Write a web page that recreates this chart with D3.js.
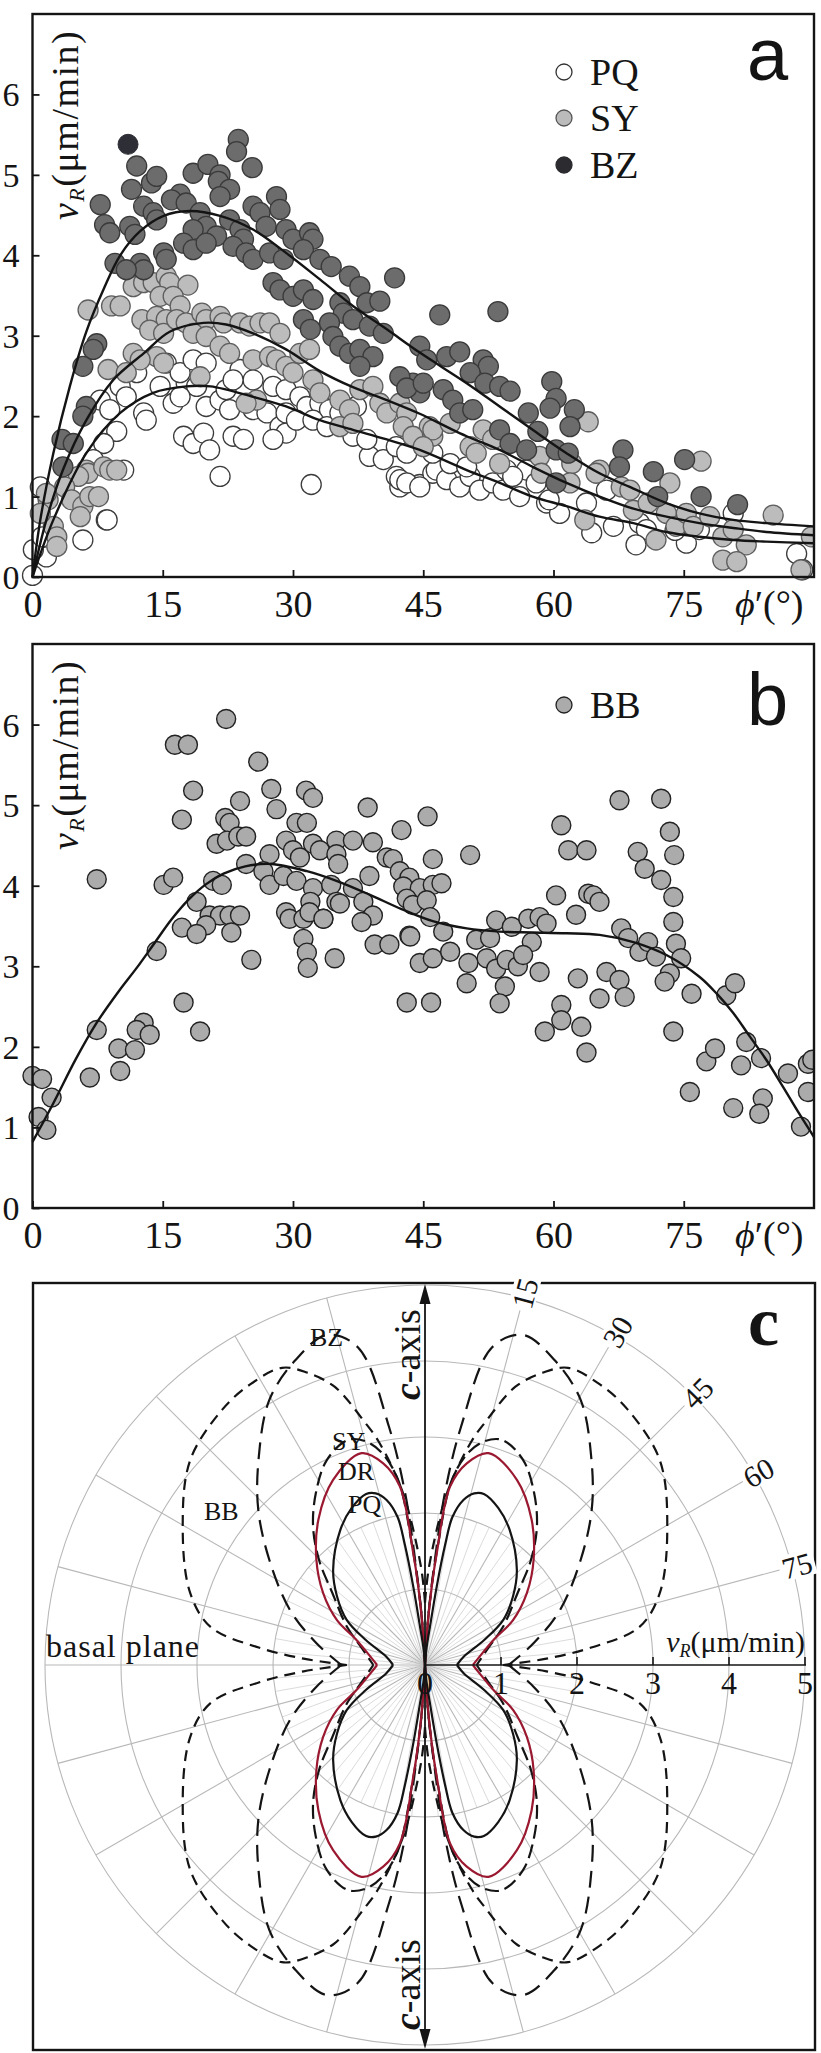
<!DOCTYPE html>
<html>
<head>
<meta charset="utf-8">
<script src="https://cdn.jsdelivr.net/npm/d3@7"></script>
<style>
  body { margin: 0; background: #fff; }
  svg { display: block; }
</style>
</head>
<body>
<svg id="fig" width="821" height="2053"></svg>
<script>
// ---------- axis ticks ----------
const degTicks = [0, 15, 30, 45, 60, 75];
const vTicks = [0, 1, 2, 3, 4, 5, 6];
const polarRings = [1, 2, 3, 4, 5];
const polarRingLabels = [0, 1, 2, 3, 4, 5];
const polarAngleLabels = [15, 30, 45, 60, 75];

// ---------- measured growth rates [phi' (deg), vR (um/min)] ----------
const pqPoints = [
  [17.4,1.75],[18.5,1.66],[19.7,1.79],[20.4,1.58],[21.6,1.25],[32.1,1.15],[23.1,1.75],[24.3,1.71],
  [20.0,2.12],[21.6,2.20],[22.7,2.08],[25.4,2.08],[27.0,2.04],[28.5,1.87],[29.2,1.79],[27.7,1.71],
  [17.7,2.41],[18.9,2.37],[16.2,2.16],[17.0,2.24],[14.7,2.37],[12.8,2.04],[13.1,1.95],[10.1,2.37],
  [10.8,2.24],[7.8,2.20],[8.9,2.08],[9.7,1.81],[8.2,1.66],[7.0,1.46],[10.5,1.33],[8.5,0.71],
  [5.8,0.46],[1.6,0.25],[0.1,0.34],[1.1,0.50],[0.9,1.12],[0.0,0.02],[23.9,2.58],[25.4,2.45],
  [27.7,2.37],[29.2,2.33],[22.3,2.33],[23.1,2.45],[30.8,2.24],[31.6,2.12],[33.1,2.16],[34.2,2.08],
  [29.2,2.04],[30.4,1.95],[32.3,1.95],[33.9,1.87],[38.8,1.50],[40.4,1.46],[41.9,1.25],[42.3,1.12],
  [44.6,1.15],[46.1,1.29],[36.9,1.75],[38.5,1.71],[41.9,1.62],[43.1,1.54],[35.4,2.04],[37.3,2.12],
  [15.4,2.66],[17.0,2.54],[12.0,2.54],[18.5,2.70],[20.0,2.66],[42.3,1.21],[43.1,1.17],[44.6,1.12],
  [46.5,1.33],[47.7,1.21],[49.2,1.12],[50.4,1.25],[51.5,1.08],[53.0,1.17],[54.2,1.08],[56.1,1.00],
  [56.9,1.33],[58.0,1.17],[59.2,0.92],[60.7,0.79],[66.9,0.63],[69.9,0.67],[70.7,0.59],[69.5,0.40],
  [75.3,0.42],[76.8,0.59],[80.7,0.79],[88.0,0.29],[88.7,0.09],[66.1,1.08],[63.8,0.92],[48.1,1.41],
  [50.0,1.37],[46.1,1.54],[54.6,1.33],[55.3,1.25],[64.4,0.55],[59.5,0.96],[8.6,0.71],[74.0,0.58]
];
const syPoints = [
  [6.4,3.32],[9.1,3.37],[10.1,3.37],[11.6,3.61],[12.8,3.66],[13.9,3.66],[15.4,3.74],[15.8,3.66],
  [17.9,3.63],[14.7,3.49],[16.2,3.49],[17.0,3.37],[12.6,3.20],[14.3,3.24],[15.4,3.20],[13.5,3.07],
  [15.1,3.03],[16.6,3.20],[17.7,3.16],[19.5,3.28],[20.0,3.20],[21.6,3.24],[22.0,3.16],[18.5,3.03],
  [20.0,2.99],[23.9,3.16],[25.0,3.12],[26.2,3.16],[27.3,3.16],[28.5,3.03],[21.6,2.87],[22.7,2.78],
  [25.4,2.70],[27.3,2.74],[28.1,2.70],[29.2,2.62],[30.0,2.54],[30.8,2.78],[31.9,2.83],[14.3,2.74],
  [15.1,2.66],[11.6,2.78],[12.4,2.70],[8.7,2.58],[10.8,2.54],[19.3,2.49],[25.8,2.20],[24.6,2.16],
  [32.3,2.45],[33.1,2.29],[35.4,2.20],[36.5,2.08],[37.7,2.33],[39.2,2.37],[40.0,2.16],[40.8,2.04],
  [42.3,2.16],[43.1,2.04],[45.7,1.87],[46.1,1.75],[35.4,1.87],[36.9,1.91],[6.2,1.33],[6.4,1.29],
  [8.2,1.37],[8.9,1.33],[9.7,1.33],[5.3,1.25],[3.7,1.12],[4.5,0.96],[5.8,0.88],[6.6,1.00],
  [7.6,1.00],[5.5,0.75],[2.4,0.63],[2.8,0.50],[2.8,0.38],[1.8,0.96],[1.6,1.04],[0.9,0.79],
  [64.0,1.93],[42.7,1.87],[46.1,1.83],[43.8,1.75],[45.0,1.62],[48.1,1.91],[51.9,1.83],[53.0,1.71],
  [50.4,1.62],[51.1,1.54],[53.8,1.41],[58.4,1.50],[58.6,1.29],[62.1,1.41],[61.9,1.17],[63.6,0.71],
  [65.3,1.33],[67.8,1.12],[68.8,1.08],[69.2,0.83],[71.8,0.46],[73.4,1.17],[73.0,0.79],[74.1,0.63],
  [77.0,1.44],[75.3,0.79],[76.1,0.63],[78.0,0.75],[79.5,0.50],[80.7,0.59],[82.2,0.40],[79.5,0.21],
  [81.1,0.19],[85.3,0.77],[89.7,0.50],[88.5,0.09],[64.9,1.29],[70.9,0.92]
];
const bzPoints = [
  [23.7,5.44],[23.5,5.29],[25.3,5.09],[12.0,5.11],[13.7,4.90],[14.3,4.98],[11.4,4.82],[7.8,4.63],
  [8.3,4.38],[8.9,4.28],[18.5,5.02],[20.2,5.13],[21.6,5.00],[21.4,4.92],[22.7,4.82],[21.6,4.73],
  [17.0,4.76],[16.0,4.69],[17.7,4.65],[12.8,4.61],[13.9,4.53],[14.3,4.44],[11.2,4.36],[11.8,4.26],
  [19.3,4.53],[20.0,4.36],[21.2,4.24],[22.7,4.44],[23.9,4.32],[24.3,4.20],[25.4,4.61],[26.2,4.53],
  [28.1,4.73],[28.5,4.57],[18.5,4.32],[17.4,4.15],[18.5,4.07],[20.0,4.15],[23.1,4.11],[24.6,4.03],
  [25.4,3.95],[15.1,4.03],[15.4,3.95],[12.4,3.90],[12.8,3.82],[9.5,3.90],[10.8,3.82],[7.4,2.90],
  [7.0,2.83],[5.8,2.62],[6.2,2.12],[5.8,2.00],[3.4,1.71],[4.7,1.66],[3.5,1.37],[26.9,4.36],
  [29.2,4.32],[30.0,4.20],[31.9,4.28],[32.3,4.20],[27.3,4.03],[28.9,3.95],[31.2,4.07],[33.1,3.95],
  [34.4,3.86],[27.7,3.66],[28.5,3.57],[30.0,3.49],[31.2,3.57],[32.3,3.45],[36.5,3.74],[37.7,3.61],
  [41.7,3.72],[35.4,3.41],[35.8,3.28],[38.5,3.41],[40.0,3.43],[36.9,3.20],[38.8,3.12],[40.4,3.03],
  [31.2,3.20],[32.0,3.08],[34.2,3.16],[34.6,2.99],[35.4,2.87],[36.5,2.78],[37.7,2.83],[39.2,2.74],
  [44.6,2.87],[45.4,2.70],[43.8,2.41],[44.6,2.29],[42.3,2.49],[37.7,2.62],[46.9,3.26],[53.6,3.30],
  [47.7,2.74],[49.2,2.80],[51.9,2.70],[52.5,2.62],[50.4,2.54],[52.1,2.41],[53.8,2.37],[55.0,2.31],
  [43.1,2.35],[45.0,2.41],[47.3,2.33],[48.4,2.20],[49.2,2.04],[50.7,2.08],[57.1,2.04],[59.8,2.43],
  [60.3,2.22],[59.6,2.10],[62.4,2.08],[61.9,1.87],[58.2,1.81],[53.8,1.83],[55.0,1.66],[56.9,1.58],
  [60.3,1.58],[61.7,1.54],[60.3,1.17],[68.0,1.58],[67.6,1.37],[71.5,1.31],[75.1,1.46],[72.0,1.00],
  [77.0,1.00],[81.2,0.90]
];
const bzDarkPoints = [[11.0,5.38]];
const bbPoints = [
  [22.3,6.07],[16.4,5.75],[17.9,5.75],[26.0,5.54],[18.5,5.18],[27.5,5.20],[31.5,5.18],[32.3,5.09],
  [23.9,5.05],[17.2,4.82],[38.6,4.97],[45.5,4.86],[22.2,4.84],[22.7,4.78],[28.1,4.95],[30.4,4.78],
  [31.6,4.78],[21.2,4.52],[22.4,4.56],[23.7,4.61],[24.6,4.61],[42.5,4.69],[27.3,4.39],[29.2,4.56],
  [30.0,4.44],[30.8,4.35],[32.3,4.52],[33.1,4.44],[35.0,4.56],[35.0,4.39],[35.2,4.27],[36.9,4.56],
  [39.2,4.54],[40.8,4.35],[41.5,4.33],[46.1,4.33],[24.6,4.27],[26.6,4.18],[27.3,4.01],[28.9,4.12],
  [30.4,4.06],[32.3,3.97],[32.0,3.80],[34.4,4.01],[35.0,3.80],[36.9,3.97],[38.8,4.12],[42.3,4.18],
  [43.4,4.10],[42.7,3.99],[44.6,3.97],[46.1,4.01],[43.1,3.84],[43.8,3.76],[45.4,3.82],[38.1,3.80],
  [39.2,3.63],[37.9,3.55],[35.4,3.78],[33.5,3.59],[15.1,4.01],[16.2,4.10],[20.8,4.06],[21.8,4.01],
  [7.4,4.08],[18.9,3.80],[20.4,3.63],[21.6,3.63],[22.7,3.63],[23.9,3.63],[20.0,3.51],[22.9,3.42],
  [17.2,3.48],[18.9,3.40],[14.3,3.19],[29.2,3.67],[29.6,3.59],[31.2,3.59],[31.9,3.67],[33.5,3.59],
  [31.2,3.34],[31.6,3.17],[31.7,2.98],[34.8,3.10],[25.2,3.08],[39.4,3.27],[41.1,3.27],[43.4,3.38],
  [44.6,3.04],[46.1,3.10],[17.4,2.55],[19.3,2.19],[43.1,2.55],[45.9,2.55],[12.8,2.30],[12.0,2.21],
  [13.5,2.15],[7.4,2.21],[9.9,1.98],[11.8,1.96],[6.6,1.62],[10.1,1.70],[0.0,1.64],[1.1,1.60],
  [2.2,1.37],[0.7,1.13],[1.6,0.97],
  [67.6,5.06],[72.4,5.08],[60.9,4.75],[61.7,4.44],[63.8,4.44],[73.4,4.67],[69.7,4.42],[70.5,4.21],
  [73.9,4.38],[72.4,4.07],[73.8,3.86],[50.4,4.38],[47.1,4.03],[43.5,3.37],[48.1,3.18],[47.3,3.43],
  [45.8,3.61],[50.2,3.04],[52.3,3.10],[53.4,2.97],[54.6,3.08],[55.9,3.00],[50.0,2.79],[51.1,3.33],
  [52.7,3.35],[53.4,3.57],[55.2,3.49],[57.1,3.59],[58.4,3.61],[59.2,3.53],[57.5,3.30],[56.5,3.14],
  [54.4,2.75],[53.8,2.54],[58.4,2.93],[60.3,3.88],[62.6,3.64],[64.0,3.90],[64.6,3.88],[65.3,3.80],
  [67.8,3.47],[68.6,3.35],[69.9,3.18],[70.9,3.30],[71.8,3.12],[62.8,2.85],[66.1,2.93],[67.6,2.83],
  [65.3,2.60],[68.2,2.62],[60.9,2.52],[60.9,2.33],[59.0,2.19],[63.2,2.25],[63.8,1.93],[73.8,3.55],
  [74.1,3.28],[74.7,3.10],[73.4,2.91],[72.8,2.81],[73.8,2.19],[75.9,2.66],[79.9,2.64],[80.9,2.79],
  [77.6,1.82],[78.6,1.98],[81.6,1.77],[82.2,2.06],[83.9,1.86],[87.0,1.67],[89.3,1.79],[89.3,1.44],
  [75.7,1.44],[80.7,1.24],[84.1,1.36],[83.7,1.17],[88.5,1.01],[89.8,1.84]
];

// ---------- fitted curves [phi' (deg), vR (um/min)] ----------
const pqFit = [
  [0,0],[2.4,0.71],[6.2,1.54],[10.1,2.04],[13.9,2.29],[17.7,2.37],[20.5,2.37],[25.4,2.24],
  [29.2,2.12],[33.1,1.95],[36.9,1.83],[40.8,1.71],[44.6,1.58],[50,1.33],[53.8,1.17],[57.6,1.0],
  [61.5,0.88],[65.3,0.75],[69.2,0.67],[73,0.56],[76.8,0.5],[80.7,0.46],[84.5,0.44],[90,0.42]
];
const syFit = [
  [0,0],[1.6,0.71],[3.5,1.33],[6.2,1.95],[9.3,2.45],[12.8,2.78],[15.8,3.05],[19.7,3.16],
  [22.3,3.14],[25.4,3.03],[29.2,2.83],[33.1,2.56],[36.9,2.36],[40.8,2.2],[44.6,2.03],[48,1.85],
  [50,1.75],[53.8,1.58],[57.6,1.37],[61.5,1.17],[65.3,1.0],[69.2,0.85],[73,0.75],[76.8,0.67],
  [80.7,0.61],[84.5,0.56],[90,0.52]
];
const bzFit = [
  [0,0],[0.9,0.71],[2.4,1.54],[4.3,2.37],[6.2,3.05],[8.2,3.58],[10.1,4.0],[12.4,4.3],
  [15.1,4.49],[18.1,4.55],[21.6,4.49],[25.4,4.32],[29.2,4.03],[33.1,3.7],[36.9,3.37],[40.8,3.08],
  [44.6,2.79],[50,2.41],[53.8,2.12],[57.6,1.83],[61.5,1.54],[65.3,1.29],[69.2,1.1],[73,0.92],
  [76.8,0.79],[80.7,0.71],[84.5,0.67],[90,0.63]
];
const bbFit = [
  [0,0.82],[2.4,1.3],[5,1.85],[7.4,2.3],[10,2.7],[12,2.98],[14,3.28],[16,3.58],[18,3.83],
  [20,4.02],[22,4.15],[24.5,4.24],[27.5,4.27],[31.6,4.18],[35,4.06],[38.8,3.89],[42.5,3.71],
  [46.1,3.56],[50,3.47],[53.8,3.43],[57.6,3.42],[61.5,3.41],[65.3,3.39],[69.2,3.3],[73,3.14],
  [76.8,2.87],[78.8,2.66],[80.7,2.42],[82.6,2.13],[84.5,1.84],[86.4,1.51],[88.3,1.17],[90,0.88]
];

// ---------- growth-rate profiles in the polar view [angle from c-axis (deg), vR] ----------
const pqPolar = [
  [0,0],[5,0.2],[7.4,0.51],[8.5,1.04],[9.5,1.6],[10.5,1.98],[13.1,2.23],[16,2.35],[19,2.38],
  [25,2.28],[32,2.1],[44,1.74],[52,1.47],[60,1.19],[67,0.85],[78,0.52],[90,0.42]
];
const drPolar = [
  [0,0],[3.5,0.45],[4.9,1.03],[6,1.48],[8,2.37],[11.7,2.71],[16.7,2.91],[26.4,2.72],[36.3,2.37],
  [45.9,1.99],[54.8,1.64],[63,1.3],[69.9,0.96],[81,0.73],[90,0.63]
];
const syPolar = [
  [0,0],[3.5,0.5],[5,1.1],[6.2,1.6],[8.2,2.45],[11.5,2.85],[15,3.05],[19,3.13],[25.6,2.99],
  [32.4,2.68],[39,2.34],[45.3,1.96],[52,1.55],[64,1.14],[75,0.86],[90,0.68]
];
const bzPolar = [
  [0,0],[4,0.7],[5.4,1.39],[6.6,2.28],[8.6,3.17],[11.9,4.27],[16.5,4.53],[23,4.36],[30.5,4.04],
  [39,3.48],[47,3.0],[56,2.47],[67.8,1.92],[78.6,1.46],[90,1.1]
];
const bbPolar = [
  [0,0.82],[2.4,1.3],[7.4,2.3],[11.7,3.0],[14,3.3],[18,3.85],[22,4.15],[25.7,4.34],[32,4.35],
  [38.5,4.29],[48.9,4.1],[60.3,3.67],[73,3.23],[80,2.86],[84,2.2],[87,1.6],[90,1.03]
];

// ---------- drawing ----------
const SERIF = "'Liberation Serif','DejaVu Serif',serif";
const SANS = "'Liberation Sans','DejaVu Sans',sans-serif";
const INK = '#141414';
const svg = d3.select('#fig');
const defs = svg.append('defs');

function drawCartesian(cfg) {
  const { id, top, bottom, left, right } = cfg;
  const x = d3.scaleLinear().domain([0, 90]).range([left, right]);
  const y = d3.scaleLinear().domain([0, 7]).range([bottom, top]);
  const g = svg.append('g');

  defs.append('clipPath').attr('id', 'clip-' + id)
    .append('rect').attr('x', -40).attr('y', top - 30)
    .attr('width', right + 40).attr('height', bottom - top + 60);

  // markers and fitted curves
  const plot = g.append('g').attr('clip-path', `url(#clip-${id})`);
  cfg.series.forEach(s => {
    plot.append('g').selectAll('circle').data(s.data).join('circle')
      .attr('cx', d => x(d[0])).attr('cy', d => y(d[1])).attr('r', s.r)
      .attr('fill', s.fill).attr('stroke', s.stroke).attr('stroke-width', s.sw);
  });
  const line = d3.line().x(d => x(d[0])).y(d => y(d[1])).curve(d3.curveCatmullRom.alpha(0.5));
  cfg.fits.forEach(f => {
    plot.append('path').attr('d', line(f)).attr('fill', 'none')
      .attr('stroke', INK).attr('stroke-width', 2.4);
  });

  // frame
  g.append('rect').attr('x', left).attr('y', top)
    .attr('width', right - left).attr('height', bottom - top)
    .attr('fill', 'none').attr('stroke', INK).attr('stroke-width', 2.4);

  // axes with inward ticks
  const gx = g.append('g').attr('transform', `translate(0,${bottom})`)
    .call(d3.axisBottom(x).tickValues(degTicks).tickSize(-7).tickSizeOuter(0).tickFormat(d3.format('d')));
  gx.select('.domain').remove();
  gx.selectAll('.tick line').attr('stroke', INK).attr('stroke-width', 1.8);
  gx.selectAll('.tick text').attr('y', 40).attr('dy', null)
    .attr('font-family', SERIF).attr('font-size', 38).attr('fill', INK);

  const gy = g.append('g').attr('transform', `translate(${left},0)`)
    .call(d3.axisLeft(y).tickValues(vTicks).tickSize(-7).tickSizeOuter(0).tickFormat(d3.format('d')));
  gy.select('.domain').remove();
  gy.selectAll('.tick line').attr('stroke', INK).attr('stroke-width', 1.8);
  gy.selectAll('.tick text').attr('x', -13).attr('dy', '0.34em')
    .attr('font-family', SERIF).attr('font-size', 34).attr('fill', INK);

  // axis titles
  const xt = g.append('text').attr('x', 735).attr('y', bottom + 40)
    .attr('font-family', SERIF).attr('font-size', 38).attr('fill', INK);
  xt.append('tspan').attr('font-style', 'italic').text('ϕ');
  xt.append('tspan').text('′(°)');

  const yt = g.append('text')
    .attr('transform', `translate(${left + 45},${top + 206}) rotate(-90)`)
    .attr('font-family', SERIF).attr('font-size', 38).attr('fill', INK)
    .attr('letter-spacing', 1.5);
  yt.append('tspan').attr('font-style', 'italic').text('v');
  yt.append('tspan').attr('font-style', 'italic').attr('font-size', 22).attr('dy', 6).text('R');
  yt.append('tspan').attr('dy', -6).text('(μm/min)');

  // legend
  const lg = g.append('g');
  cfg.legend.forEach(l => {
    const cy = top + l.dy;
    lg.append('circle').attr('cx', 564).attr('cy', cy).attr('r', 8)
      .attr('fill', l.fill).attr('stroke', l.stroke).attr('stroke-width', 1.3);
    lg.append('text').attr('x', 590).attr('y', cy + 13)
      .attr('font-family', SERIF).attr('font-size', 38).attr('fill', INK).text(l.name);
  });

  // panel letter
  g.append('text').attr('x', 747).attr('y', cfg.letterY)
    .attr('font-family', SANS).attr('font-size', 74).attr('fill', INK).text(cfg.letter);
}

drawCartesian({
  id: 'a', top: 14, bottom: 577, left: 32.5, right: 814, letter: 'a', letterY: 80,
  series: [
    { data: pqPoints, r: 10, fill: '#ffffff', stroke: '#3c3c3c', sw: 1.3 },
    { data: syPoints, r: 10, fill: '#bcbcbc', stroke: '#5e5e5e', sw: 1.3 },
    { data: bzPoints, r: 10, fill: '#6c6c6c', stroke: '#3a3a3a', sw: 1.3 },
    { data: bzDarkPoints, r: 10, fill: '#2e2e36', stroke: '#2e2e36', sw: 1 }
  ],
  fits: [pqFit, syFit, bzFit],
  legend: [
    { name: 'PQ', dy: 58, fill: '#ffffff', stroke: '#333' },
    { name: 'SY', dy: 104, fill: '#bbbbbb', stroke: '#555' },
    { name: 'BZ', dy: 151, fill: '#2b2b30', stroke: '#2b2b30' }
  ]
});

drawCartesian({
  id: 'b', top: 644, bottom: 1208, left: 32.5, right: 814, letter: 'b', letterY: 725,
  series: [
    { data: bbPoints, r: 9.5, fill: '#ababab', stroke: '#222', sw: 1.4 }
  ],
  fits: [bbFit],
  legend: [
    { name: 'BB', dy: 61, fill: '#ababab', stroke: '#222' }
  ]
});

// ---------- panel c: polar view ----------
(function drawPolar() {
  const cx = 425, cy = 1665;
  const r = d3.scaleLinear().domain([0, 5]).range([0, 380]);
  const g = svg.append('g');
  const pg = g.append('g').attr('transform', `translate(${cx},${cy})`);
  const rad = d => d * Math.PI / 180;

  // spokes: every 15 deg across the full radius, every 5 deg near the centre
  const spokes = d3.range(0, 360, 5).filter(d => d % 90 !== 0 || d === 270);
  pg.selectAll('line.spoke').data(spokes).join('line')
    .attr('x1', 0).attr('y1', 0)
    .attr('x2', d => r(d % 15 === 0 ? 5 : 2) * Math.sin(rad(d)))
    .attr('y2', d => -r(d % 15 === 0 ? 5 : 2) * Math.cos(rad(d)))
    .attr('stroke', d => d % 15 === 0 ? '#b8b8b8' : '#d2d2d2')
    .attr('stroke-width', d => d % 15 === 0 ? 1.1 : 0.8);

  pg.selectAll('circle.ring').data(polarRings).join('circle')
    .attr('r', d => r(d)).attr('fill', 'none')
    .attr('stroke', '#b8b8b8').attr('stroke-width', 1.1);

  // profiles, mirrored into the four quadrants
  const radial = d3.lineRadial().angle(d => d[0]).radius(d => d[1])
    .curve(d3.curveCatmullRom.alpha(0.5));
  const quadrants = prof => [
    prof.map(([p, v]) => [rad(p), r(v)]),
    prof.map(([p, v]) => [rad(-p), r(v)]),
    prof.map(([p, v]) => [rad(180 - p), r(v)]),
    prof.map(([p, v]) => [rad(180 + p), r(v)])
  ];
  const polarCurves = [
    { prof: bbPolar, stroke: INK, dash: '11,7', w: 2.2 },
    { prof: bzPolar, stroke: INK, dash: '17,9', w: 2.2 },
    { prof: syPolar, stroke: INK, dash: '14,6', w: 2.2 },
    { prof: drPolar, stroke: '#9a1830', dash: null, w: 2.2 },
    { prof: pqPolar, stroke: INK, dash: null, w: 2.2 }
  ];
  polarCurves.forEach(c => {
    quadrants(c.prof).forEach(q => {
      pg.append('path').attr('d', radial(q)).attr('fill', 'none')
        .attr('stroke', c.stroke).attr('stroke-width', c.w)
        .attr('stroke-dasharray', c.dash);
    });
  });

  // radial axis (basal plane, right half)
  pg.append('line').attr('x1', 0).attr('x2', r(5) + 1).attr('y1', 0).attr('y2', 0)
    .attr('stroke', INK).attr('stroke-width', 1.6);
  pg.selectAll('line.rt').data(polarRings).join('line')
    .attr('x1', d => r(d)).attr('x2', d => r(d)).attr('y1', 0).attr('y2', -8)
    .attr('stroke', INK).attr('stroke-width', 1.6);
  pg.selectAll('text.rl').data(polarRingLabels).join('text')
    .attr('x', d => r(d)).attr('y', 29).attr('text-anchor', 'middle')
    .attr('font-family', SERIF).attr('font-size', 32).attr('fill', INK).text(d => d);

  // c-axis with arrowheads
  const top = 1284, bottom = 2049;
  g.append('line').attr('x1', cx).attr('x2', cx).attr('y1', top + 6).attr('y2', bottom - 6)
    .attr('stroke', INK).attr('stroke-width', 1.8);
  g.append('path').attr('d', `M${cx},${top} L${cx - 5.5},${top + 20} L${cx + 5.5},${top + 20} Z`).attr('fill', INK);
  g.append('path').attr('d', `M${cx},${bottom} L${cx - 5.5},${bottom - 20} L${cx + 5.5},${bottom - 20} Z`).attr('fill', INK);

  // frame
  g.append('rect').attr('x', 33).attr('y', 1283).attr('width', 782).attr('height', 767)
    .attr('fill', 'none').attr('stroke', INK).attr('stroke-width', 2.4);

  // angle labels on the outer ring
  polarAngleLabels.forEach(a => {
    const R = 385;
    const lx = cx + R * Math.sin(rad(a)), ly = cy - R * Math.cos(rad(a));
    const lab = g.append('g').attr('transform', `translate(${lx},${ly}) rotate(${a - 90})`);
    lab.append('rect').attr('x', -18).attr('y', -13).attr('width', 36).attr('height', 26).attr('fill', '#fff');
    lab.append('text').attr('text-anchor', 'middle').attr('dy', '0.36em')
      .attr('font-family', SERIF).attr('font-size', 30).attr('fill', INK).text(a);
  });

  // c-axis captions
  [1400, 2030].forEach(yy => {
    const t = g.append('text').attr('transform', `translate(420,${yy}) rotate(-90)`)
      .attr('font-family', SERIF).attr('font-size', 38).attr('fill', INK);
    t.append('tspan').attr('font-style', 'italic').attr('font-weight', 'bold').text('c');
    t.append('tspan').text('-axis');
  });

  // curve names
  const names = [
    { t: 'BZ', x: 310, y: 1346 }, { t: 'SY', x: 332, y: 1450 },
    { t: 'DR', x: 338, y: 1480 }, { t: 'PQ', x: 348, y: 1513 },
    { t: 'BB', x: 204, y: 1520 }
  ];
  names.forEach(n => {
    g.append('text').attr('x', n.x).attr('y', n.y)
      .attr('font-family', SERIF).attr('font-size', 26).attr('fill', INK).text(n.t);
  });

  g.append('text').attr('x', 46).attr('y', 1657)
    .attr('font-family', SERIF).attr('font-size', 32).attr('letter-spacing', 1)
    .attr('fill', INK).text('basal plane');

  const vt = g.append('text').attr('x', 805).attr('y', 1652).attr('text-anchor', 'end')
    .attr('font-family', SERIF).attr('font-size', 30).attr('fill', INK);
  vt.append('tspan').attr('font-style', 'italic').text('v');
  vt.append('tspan').attr('font-style', 'italic').attr('font-size', 18).attr('dy', 5).text('R');
  vt.append('tspan').attr('dy', -5).text('(μm/min)');

  g.append('text').attr('x', 748).attr('y', 1345)
    .attr('font-family', SERIF).attr('font-weight', 'bold').attr('font-size', 70)
    .attr('fill', INK).text('c');
})();
</script>
</body>
</html>
